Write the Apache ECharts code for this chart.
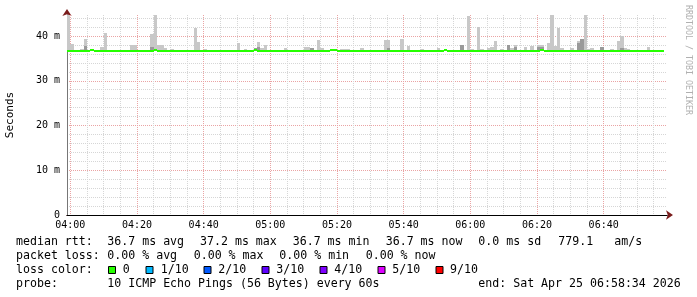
<!DOCTYPE html>
<html>
<head>
<meta charset="utf-8">
<script src="https://cdn.jsdelivr.net/npm/echarts@6/dist/echarts.min.js"></script>
<style>
html,body{margin:0;padding:0;background:#fff;}
#c{width:697px;height:297px;}
</style>
</head>
<body>
<div id="c"></div>
<script>
// time axis: minutes since midnight; first step starts 03:59
const startMinute = 239;
const endMinute = 419;
const tickLabelEvery = 20;

// median rtt per minute (ms), index 0 = 03:59
const median = [
36.7,36.7,36.7,36.7,36.7,36.7,36.7,36.9,36.7,36.7,
36.7,36.7,36.7,36.7,36.7,36.7,36.7,36.7,36.7,36.7,
36.7,36.7,36.7,36.7,36.7,36.7,36.9,36.7,36.7,36.7,
36.7,36.7,36.7,36.7,36.7,36.7,36.7,36.7,36.7,36.7,
36.7,36.7,36.7,36.7,36.7,36.7,36.7,36.7,36.7,36.7,
36.7,36.7,36.7,36.7,36.7,36.7,36.9,36.7,36.7,36.7,
36.7,36.7,36.7,36.7,36.7,36.7,36.7,36.7,36.7,36.7,
36.7,36.7,36.7,36.7,36.7,36.7,36.7,36.7,36.7,36.9,
36.9,36.7,36.7,36.7,36.7,36.7,36.7,36.7,36.7,36.7,
36.7,36.7,36.7,36.7,36.7,36.7,36.7,36.7,36.7,36.7,
36.7,36.7,36.7,36.7,36.7,36.7,36.7,36.7,36.7,36.7,
36.7,36.7,36.7,36.9,36.7,36.7,36.7,36.7,36.7,36.7,
36.7,36.7,36.7,36.7,36.7,36.7,36.7,36.7,36.7,36.7,
36.7,36.7,36.7,36.7,36.7,36.7,36.7,36.7,36.7,36.7,
36.7,36.7,36.9,36.7,36.7,36.7,36.7,36.7,36.7,36.7,
36.7,36.7,36.7,36.7,36.7,36.7,36.7,36.7,36.7,36.7,
36.7,36.7,36.7,36.7,36.7,36.7,36.7,36.7,36.7,36.7,
36.7,36.7,36.7,36.7,36.7,36.7,36.7,36.7,36.7
];

// outer smoke top (max ping) per minute (ms)
const smokeMax = [
44.8,38.3,36.9,36.9,37.1,39.3,36.9,36.9,36.9,36.9,
37.6,40.7,36.9,36.9,36.9,36.9,36.9,36.9,36.9,38.1,
38.1,36.9,36.9,36.9,36.9,40.5,44.8,38.1,38.1,37.4,
36.9,37.1,36.9,36.9,36.9,36.9,36.9,36.9,41.9,38.7,
36.9,37.1,36.9,36.9,36.9,36.9,36.9,36.9,36.9,36.9,
36.9,38.4,36.9,37.1,36.9,36.9,37.4,38.7,37.4,38.1,
36.9,36.9,36.9,36.9,36.9,37.4,36.9,36.9,36.9,36.9,
36.9,37.5,37.5,37.4,36.9,39.2,37.4,36.9,36.9,36.9,
36.9,36.9,37.1,37.1,37.1,36.9,36.9,36.9,37.4,36.9,
36.9,36.9,36.9,36.9,36.9,39.1,39.1,36.9,36.9,36.9,
39.3,36.9,37.8,36.9,36.9,36.9,37.1,36.9,36.9,36.9,
36.9,37.4,36.9,36.9,36.9,36.9,36.9,36.9,37.9,36.9,
44.5,37.1,36.9,42.1,37.1,36.9,37.4,37.6,38.9,36.9,
37.1,36.9,37.9,37.4,37.9,36.9,36.9,37.6,36.9,37.8,
36.9,38.1,38.1,36.9,38.4,44.8,37.8,41.9,37.4,36.9,
36.9,37.4,36.9,38.9,39.3,44.8,37.1,37.4,36.9,36.9,
37.6,36.9,36.9,37.1,36.9,38.9,40.1,37.4,37.1,36.9,
36.9,36.9,36.9,36.9,37.6,36.9,36.9,36.9,36.9
];

// inner (darker) smoke top per minute (ms); null = hidden under the median
const N = null;
const smokeInner = [
N,N,N,N,N,37.8,N,N,N,N,
N,N,N,N,N,N,N,N,N,N,
N,N,N,N,N,37.6,N,N,N,N,
N,N,N,N,N,N,N,N,N,N,
N,N,N,N,N,N,N,N,N,N,
N,N,N,N,N,N,37.4,37.6,N,N,
N,N,N,N,N,N,N,N,N,N,
N,N,N,37.4,N,N,N,N,N,N,
N,N,N,N,N,N,N,N,N,N,
N,N,N,N,N,N,37.4,N,N,N,
N,N,N,N,N,N,N,N,N,N,
N,N,N,N,N,N,N,N,37.9,N,
N,N,N,N,N,N,N,N,N,N,
N,N,37.9,N,37.6,N,N,N,N,N,
N,37.6,37.6,N,N,N,N,N,N,N,
N,N,N,38.5,39.3,N,N,N,N,N,
37.6,N,N,N,N,N,37.3,N,N,N,
N,N,N,N,N,N,N,N,N
];

// legend texts
const statsRtt = ['median rtt:', '36.7 ms avg', '37.2 ms max', '36.7 ms min', '36.7 ms now', '0.0 ms sd', '779.1', 'am/s'];
const statsLoss = ['packet loss:', '0.00 % avg', '0.00 % max', '0.00 % min', '0.00 % now'];
const lossLabels = ['0', '1/10', '2/10', '3/10', '4/10', '5/10', '9/10'];
const lossColors = ['#26ff00', '#00b8ff', '#0059ff', '#5e00ff', '#7e00ff', '#dd00ff', '#ff0000'];
const probeText = ['probe:', '10 ICMP Echo Pings (56 Bytes) every 60s', 'end: Sat Apr 25 06:58:34 2026'];

const MONO = '"DejaVu Sans Mono", monospace';

const outerData = [], innerData = [], medData = [];
for (let i = 0; i < median.length; i++) {
  const x = startMinute + i;
  outerData.push([x, median[i], smokeMax[i]]);
  if (smokeInner[i] != null) innerData.push([x, median[i], smokeInner[i]]);
  medData.push([x, median[i]]);
}

function rectItem(fill) {
  return function (params, api) {
    const x = api.value(0), lo = api.value(1), hi = api.value(2);
    const p1 = api.coord([x, hi]);
    const p2 = api.coord([x + 1, lo]);
    const x0 = Math.round(p1[0]), x1 = Math.round(p2[0]);
    const y0 = Math.round(p1[1]), y1 = Math.round(p2[1]);
    return { type: 'rect', shape: { x: x0, y: y0, width: x1 - x0, height: y1 - y0 }, style: { fill: fill } };
  };
}

const T = 'rgba(0,0,0,0)', R = '#eaa4a4', G = '#d6d6d6';
const xLineColors = [];
for (let k = 0; k < tickLabelEvery; k++) {
  const m = startMinute + k;
  xLineColors.push(m % 20 === 0 ? R : (m % 5 === 0 ? G : T));
}
const yLineColors = [R, G, G, G, G];

function pad(n) { return (n < 10 ? '0' : '') + n; }

const graphics = [];
function txt(x, y, s, extra) {
  graphics.push(Object.assign({ type: 'text', x: x, y: y, style: { text: s, font: '11.6px ' + MONO, fill: '#000', verticalAlign: 'middle', align: 'left' } }, extra || {}));
}
const rttX = [16, 107.3, 200, 292.7, 385.7, 478.3, 558.3, 614.3];
statsRtt.forEach((s, i) => txt(rttX[i], 241.5, s));
const lossX = [16, 107.3, 193.7, 279.3, 365.7];
statsLoss.forEach((s, i) => txt(lossX[i], 255.5, s));
txt(16, 269.8, 'loss color:');
const sqX = [108.5, 146, 204, 262, 320, 378, 436];
const lblX = [122.7, 160.7, 218.3, 276.3, 334.3, 392.3, 450];
lossLabels.forEach((s, i) => {
  graphics.push({ type: 'rect', shape: { x: sqX[i], y: 266.5, width: 7, height: 7 }, style: { fill: lossColors[i], stroke: '#000', lineWidth: 1 } });
  txt(lblX[i], 269.8, s);
});
const probeX = [16, 107.3, 478.3];
probeText.forEach((s, i) => txt(probeX[i], 283.5, s));
graphics.push({ type: 'text', x: 688.5, y: 5, rotation: -Math.PI / 2,
  style: { text: 'RRDTOOL / TOBI OETIKER', font: '8.3px ' + MONO, fill: '#b0b0b0', verticalAlign: 'middle', align: 'left' } });

const chart = echarts.init(document.getElementById('c'), null, { renderer: 'canvas' });
chart.setOption({
  backgroundColor: '#fff',
  animation: false,
  grid: { left: 67, right: 30, top: 15, bottom: 82, containLabel: false, outerBoundsMode: 'none' },
  xAxis: [{
    type: 'value', min: startMinute, max: endMinute, position: 'bottom', z: 0,
    axisLine: { show: true, symbol: ['none', 'arrow'], symbolSize: [7, 7], symbolOffset: [0, 6], lineStyle: { color: '#7a1c1c', width: 1 } },
    axisTick: { show: false }, axisLabel: { show: false }, splitLine: { show: false }
  }, {
    type: 'value', min: startMinute, max: endMinute, interval: 1, position: 'bottom', z: 1,
    axisLine: { show: true, lineStyle: { color: '#000', width: 1 } },
    axisTick: { show: false },
    axisLabel: {
      fontFamily: MONO, fontSize: 10, color: '#000', margin: 5, hideOverlap: false,
      formatter: v => (v % tickLabelEvery === 0 ? pad(Math.floor(v / 60)) + ':' + pad(v % 60) : '')
    },
    splitLine: { show: true, showMinLine: true, showMaxLine: false, lineStyle: { color: xLineColors, type: [1, 1], width: 1 } }
  }],
  yAxis: [{
    type: 'value', min: 0, max: 44.7, position: 'left', z: 0,
    axisLine: { show: true, symbol: ['none', 'arrow'], symbolSize: [7, 7], symbolOffset: [0, 6], lineStyle: { color: '#7a1c1c', width: 1 } },
    axisTick: { show: false }, axisLabel: { show: false }, splitLine: { show: false }
  }, {
    type: 'value', min: 0, max: 44.7, interval: 2, position: 'left', z: 1,
    name: 'Seconds', nameLocation: 'middle', nameGap: 51,
    nameTextStyle: { fontFamily: MONO, fontSize: 11, color: '#000' },
    axisLine: { show: true, lineStyle: { color: '#777', width: 1 } },
    axisTick: { show: false },
    axisLabel: {
      fontFamily: MONO, fontSize: 10, color: '#000', margin: 7,
      formatter: v => (v === 0 ? '0' : (v % 10 === 0 ? v + ' m' : ''))
    },
    splitLine: { show: true, showMinLine: true, showMaxLine: false, lineStyle: { color: yLineColors, type: [1, 1], width: 1 } }
  }],
  series: [
    { type: 'custom', renderItem: rectItem('#c8c8c8'), data: outerData, encode: { x: 0, y: [1, 2] }, z: 2, silent: true },
    { type: 'custom', renderItem: rectItem('#9a9a9a'), data: innerData, encode: { x: 0, y: [1, 2] }, z: 3, silent: true },
    { type: 'custom', data: medData, encode: { x: 0, y: 1 }, z: 4, silent: true,
      renderItem: function (params, api) {
        const x = api.value(0), m = api.value(1);
        const p1 = api.coord([x, m]), p2 = api.coord([x + 1, m]);
        const y = Math.round(p1[1]);
        return { type: 'line', shape: { x1: Math.round(p1[0]), y1: y, x2: Math.round(p2[0]), y2: y }, style: { stroke: lossColors[0], lineWidth: 2 } };
      } }
  ],
  graphic: graphics
});
</script>
</body>
</html>
